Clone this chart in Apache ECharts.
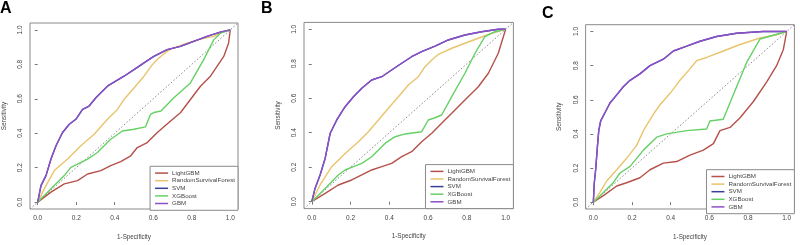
<!DOCTYPE html>
<html>
<head>
<meta charset="utf-8">
<script src="https://cdn.jsdelivr.net/npm/echarts@6/dist/echarts.min.js"></script>
<style>
  html, body { margin: 0; padding: 0; background: #fff; }
  #main { width: 800px; height: 245px; }
</style>
</head>
<body>
<div id="main"></div>
<script>
// model names, in legend order
var models = ['LightGBM', 'RandomSurvivalForest', 'SVM', 'XGBoost', 'GBM'];
var ticks = [0, 0.2, 0.4, 0.6, 0.8, 1.0];

// panel A: [1-specificity, sensitivity]
var lgbA = [[0,0],[0.069,0.058],[0.138,0.106],[0.207,0.125],[0.259,0.163],[0.328,0.183],[0.379,0.212],[0.431,0.235],[0.483,0.269],[0.517,0.317],[0.569,0.346],[0.621,0.404],[0.69,0.471],[0.741,0.519],[0.793,0.596],[0.845,0.673],[0.897,0.731],[0.931,0.788],[0.966,0.846],[0.991,0.923],[1,1]];
var rsfA = [[0,0],[0.043,0.096],[0.086,0.183],[0.155,0.25],[0.224,0.327],[0.293,0.394],[0.362,0.481],[0.414,0.538],[0.448,0.596],[0.5,0.663],[0.552,0.731],[0.595,0.798],[0.629,0.837],[0.672,0.875],[0.69,0.888],[0.776,0.923],[0.845,0.946],[0.914,0.962],[0.948,0.981],[1,1]];
var xgbA = [[0,0],[0.069,0.077],[0.138,0.154],[0.172,0.202],[0.207,0.221],[0.259,0.25],[0.31,0.288],[0.379,0.365],[0.44,0.413],[0.5,0.423],[0.56,0.437],[0.586,0.51],[0.603,0.52],[0.64,0.529],[0.707,0.606],[0.793,0.692],[0.862,0.827],[0.914,0.942],[0.948,0.981],[1,1]];
var gbmA = [[0,0],[0.017,0.096],[0.043,0.154],[0.069,0.25],[0.095,0.327],[0.129,0.404],[0.164,0.452],[0.198,0.481],[0.233,0.538],[0.267,0.558],[0.302,0.606],[0.328,0.635],[0.362,0.673],[0.405,0.702],[0.448,0.731],[0.5,0.769],[0.552,0.808],[0.603,0.846],[0.672,0.885],[0.741,0.904],[0.81,0.933],[0.879,0.962],[0.948,0.987],[1,1]];
var svmA = gbmA; // SVM curve lies under GBM

// panel B
var lgbB = [[0,0],[0.069,0.048],[0.137,0.097],[0.206,0.126],[0.258,0.155],[0.309,0.184],[0.361,0.203],[0.412,0.222],[0.464,0.261],[0.515,0.29],[0.567,0.348],[0.619,0.397],[0.67,0.455],[0.722,0.513],[0.79,0.59],[0.859,0.667],[0.911,0.745],[0.962,0.861],[1,1]];
var rsfB = [[0,0],[0.043,0.097],[0.103,0.203],[0.172,0.28],[0.241,0.348],[0.292,0.406],[0.344,0.474],[0.395,0.542],[0.447,0.609],[0.498,0.677],[0.55,0.725],[0.584,0.783],[0.619,0.822],[0.653,0.855],[0.722,0.89],[0.79,0.919],[0.859,0.948],[0.928,0.977],[1,1]];
var xgbB = [[0,0],[0.069,0.077],[0.137,0.155],[0.172,0.184],[0.215,0.203],[0.258,0.222],[0.309,0.261],[0.378,0.338],[0.43,0.377],[0.481,0.393],[0.567,0.406],[0.601,0.474],[0.636,0.487],[0.67,0.503],[0.722,0.609],[0.79,0.745],[0.842,0.861],[0.893,0.957],[0.945,0.986],[1,1]];
var gbmB = [[0,0],[0.017,0.077],[0.043,0.155],[0.069,0.251],[0.095,0.397],[0.129,0.474],[0.172,0.551],[0.215,0.609],[0.258,0.658],[0.309,0.706],[0.361,0.725],[0.412,0.764],[0.464,0.803],[0.515,0.841],[0.567,0.87],[0.636,0.903],[0.704,0.938],[0.79,0.967],[0.876,0.986],[0.962,1],[1,1]];
var svmB = gbmB;

// panel C
var lgbC = [[0,0],[0.052,0.038],[0.121,0.095],[0.172,0.114],[0.241,0.143],[0.293,0.19],[0.362,0.229],[0.431,0.238],[0.5,0.276],[0.569,0.305],[0.621,0.343],[0.655,0.419],[0.707,0.438],[0.759,0.495],[0.828,0.59],[0.897,0.705],[0.948,0.8],[0.983,0.895],[1,1]];
var rsfC = [[0,0],[0.034,0.057],[0.069,0.124],[0.121,0.19],[0.172,0.257],[0.224,0.333],[0.259,0.419],[0.31,0.514],[0.345,0.571],[0.397,0.638],[0.448,0.714],[0.5,0.781],[0.534,0.829],[0.586,0.848],[0.672,0.886],[0.759,0.924],[0.862,0.962],[0.948,0.981],[1,1]];
var xgbC = [[0,0],[0.052,0.057],[0.103,0.114],[0.138,0.171],[0.19,0.21],[0.259,0.305],[0.328,0.381],[0.379,0.4],[0.483,0.419],[0.586,0.429],[0.603,0.476],[0.672,0.486],[0.724,0.629],[0.793,0.819],[0.862,0.956],[1,1]];
var gbmC = [[0,0],[0.005,0.114],[0.012,0.19],[0.021,0.324],[0.028,0.419],[0.038,0.476],[0.06,0.524],[0.086,0.581],[0.121,0.629],[0.155,0.676],[0.19,0.714],[0.241,0.752],[0.293,0.8],[0.362,0.838],[0.414,0.886],[0.483,0.914],[0.552,0.943],[0.638,0.971],[0.741,0.99],[0.879,1],[1,1]];
var svmC = gbmC;

// chance line, spans the whole plot region like abline(0,1)
var diagLine = [[-0.04,-0.04],[1.04,1.04]];

var colors = ['#b5504a', '#e8c46c', '#3b3f93', '#66d066', '#8c50c8'];
var panels = [
  { label: 'A', data: [lgbA, rsfA, svmA, xgbA, gbmA], left: 29, top: 23, width: 209, height: 187.3, lx: 0, ly: 1 },
  { label: 'B', data: [lgbB, rsfB, svmB, xgbB, gbmB], left: 304, top: 22.4, width: 209.4, height: 186.2, lx: 261, ly: 1 },
  { label: 'C', data: [lgbC, rsfC, svmC, xgbC, gbmC], left: 585.6, top: 24.7, width: 208.8, height: 189, lx: 542, ly: 6 }
];

var font = 'Liberation Sans, Arial, sans-serif';
var grid = [], xAxis = [], yAxis = [], series = [], legend = [], graphic = [];

panels.forEach(function (p, i) {
  grid.push({ left: p.left, top: p.top, width: p.width, height: p.height,
    show: true, borderColor: '#8a8a8a', borderWidth: 1, backgroundColor: 'transparent' });
  var common = {
    gridIndex: i, type: 'value', min: -0.04, max: 1.04,
    nameLocation: 'middle',
    nameTextStyle: { fontSize: 6.3, color: '#444', fontFamily: font },
    axisLine: { show: false },
    splitLine: { show: false },
    axisTick: { show: true, length: 3, customValues: ticks, lineStyle: { color: '#777' } },
    axisLabel: { customValues: ticks, fontSize: 6.5, color: '#444', fontFamily: font, margin: 6,
      formatter: function (v) { return v.toFixed(1); } }
  };
  xAxis.push(Object.assign({}, common, { name: '1-Specificity', nameGap: 25 }));
  var ya = Object.assign({}, common, { name: 'Sensitivity', nameGap: 23 });
  ya.axisLabel = Object.assign({}, common.axisLabel, { rotate: 90 });
  yAxis.push(ya);

  series.push({ type: 'line', xAxisIndex: i, yAxisIndex: i, data: diagLine, symbol: 'none',
    silent: true, z: 1, lineStyle: { color: '#888', width: 1, type: [1.5, 2] } });
  models.forEach(function (m, k) {
    series.push({ name: m, type: 'line', xAxisIndex: i, yAxisIndex: i, data: p.data[k],
      symbol: 'none', z: 2 + k, color: colors[k], lineStyle: { width: 1.4, color: colors[k] } });
  });

  legend.push({
    data: models, orient: 'vertical', selectedMode: false,
    right: 800 - (p.left + p.width), bottom: 245 - (p.top + p.height),
    padding: [3, 3, 3, 5], itemGap: 0, itemWidth: 13, itemHeight: 1.5, icon: 'rect',
    backgroundColor: '#fff', borderColor: '#8a8a8a', borderWidth: 1, borderRadius: 0,
    textStyle: { fontSize: 6.2, lineHeight: 7.6, color: '#444', fontFamily: font, padding: [0, 0, 0, -1] }
  });

  graphic.push({ type: 'text', left: p.lx, top: p.ly,
    style: { text: p.label, font: 'bold 16px ' + font, fill: '#000' } });
});

var chart = echarts.init(document.getElementById('main'));
chart.setOption({
  animation: false,
  grid: grid, xAxis: xAxis, yAxis: yAxis, series: series, legend: legend, graphic: graphic
});
</script>
</body>
</html>
